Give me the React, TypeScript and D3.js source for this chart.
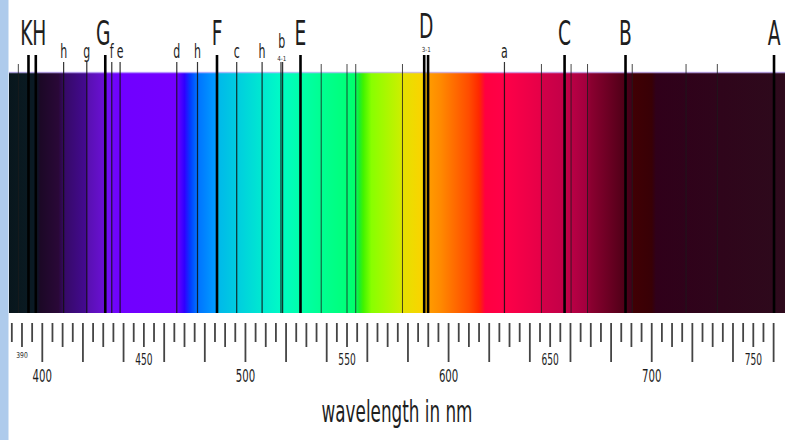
import React from 'react';
import * as d3 from 'd3';

// visible part of the spectrum, in nm
const spectrumRange = [383.6, 765.6];

// colour of the continuum at a given wavelength
const stopWavelengths = [
  383.6, 393, 397, 399, 408, 411, 421.9, 422.1, 430.8, 431, 438, 466, 470, 473, 476, 486,
  486.2, 495.5, 507, 517, 527, 537, 549.5, 554, 556, 558, 562, 576, 577, 588, 590, 596,
  610, 615, 618, 627, 645, 646, 657, 668, 670, 686, 690, 691, 700, 702, 765.6,
];
const stopColors = [
  '#08161c', '#0a1a22', '#0a1a26', '#1c0826', '#2a0838', '#360a68', '#440a92', '#5810b0',
  '#6a10d4', '#7010f0', '#7000ff', '#7400ff', '#3000ff', '#0040ff', '#0070ff', '#00a0ff',
  '#00b8ea', '#00cce0', '#00e6d2', '#00fac6', '#00ffaa', '#00ff92', '#00ff7a', '#00ff6a',
  '#18ee30', '#40f400', '#88ff00', '#c8f000', '#e4e200', '#fcd200', '#ff9c00', '#ff8a00',
  '#ff4c00', '#ff2800', '#ff0040', '#ff0048', '#e60048', '#d20048', '#c40048', '#a2003e',
  '#8a0030', '#520018', '#420018', '#400004', '#380006', '#30001a', '#2e0a1c',
];

// absorption lines (nm)
const strongLines = [393.2, 396.8, 431.0, 486.0, 527.1, 588.0, 589.9, 657.1, 687.1, 760.2];
const mediumLines = [410.5, 421.9, 434.2, 438.3, 466.2, 476.4, 495.7, 508.2, 517.5, 518.3, 627.5];
const weakLines = [388.2, 537.3, 550.0, 554.3, 577.3, 645.7, 660.3, 668.4, 690.4, 716.9, 732.3];

// letters
const bigLabels = ['K', 'H', 'G', 'F', 'E', 'D', 'C', 'B', 'A'];
const bigLabelAt = [393.2, 396.8, 431.0, 486.0, 527.1, 589.0, 657.1, 687.1, 760.2];
const smallLabels = ['h', 'g', 'f', 'e', 'd', 'h', 'c', 'h', 'b', 'a'];
const smallLabelAt = [410.5, 421.9, 434.2, 438.3, 466.2, 476.4, 495.7, 508.2, 517.9, 627.5];
const subLabels = ['4-1', '3-1'];
const subLabelAt = [517.9, 589.0];

// axis
const upperTickLabels = [390, 450, 550, 650, 750];
const lowerTickLabels = [400, 500, 600, 700];
const tickFrom = 385;
const tickTo = 760;

const FONT = '"DejaVu Sans", sans-serif';
const SQUEEZE = 0.55;

export default function App() {
  const width = 788;
  const height = 440;
  const top = 72;
  const bottom = 313;

  const x = d3.scaleLinear().domain([400, 750]).range([42.3, 753.3]);
  const x0 = x(spectrumRange[0]);
  const x1 = x(spectrumRange[1]);
  const offset = d3.scaleLinear().domain(spectrumRange).range([0, 1]);

  const ticks = d3.range(tickFrom, tickTo + 1, 5);
  const tickEnd = (t: number) => (t % 20 === 0 ? 362 : t % 10 === 0 ? 347 : 342);

  // small nudges so the letters sit like the original
  const nudge: Record<string, number> = { K: -2.2, H: 3.5, G: -2 };

  const label = (txt: string, cx: number, y: number, size: number, key: string, sq = SQUEEZE) => (
    <text
      key={key}
      transform={`translate(${cx},${y}) scale(${sq},1)`}
      textAnchor="middle"
      fontFamily={FONT}
      fontSize={size}
      fill="#1e1e1e"
    >
      {txt}
    </text>
  );

  return (
    <svg
      width={width}
      height={height}
      style={{ position: 'absolute', left: 0, top: 0, background: '#fff' }}
    >
      <defs>
        <linearGradient id="spec" gradientUnits="userSpaceOnUse" x1={x0} x2={x1} y1={0} y2={0}>
          {stopWavelengths.map((w, i) => (
            <stop key={i} offset={offset(w)} stopColor={stopColors[i]} />
          ))}
        </linearGradient>
      </defs>

      <rect x={0} y={0} width={8.5} height={height} fill="#aecbec" />

      <rect x={x0} y={top} width={x1 - x0} height={bottom - top} fill="url(#spec)" />
      <line x1={x0} x2={x1} y1={top + 0.5} y2={top + 0.5} stroke="#c9b8ff" strokeWidth={1.5} opacity={0.8} />

      {weakLines.map((w, i) => (
        <line key={'w' + i} x1={x(w)} x2={x(w)} y1={64} y2={bottom} stroke="#1c1c1c" strokeWidth={1} opacity={0.8} />
      ))}
      {mediumLines.map((w, i) => (
        <line key={'m' + i} x1={x(w)} x2={x(w)} y1={62} y2={bottom} stroke="#111" strokeWidth={1.2} opacity={0.85} />
      ))}
      {strongLines.map((w, i) => (
        <line key={'s' + i} x1={x(w)} x2={x(w)} y1={55} y2={bottom} stroke="#000" strokeWidth={2.6} />
      ))}

      {bigLabels.map((l, i) =>
        label(l, x(bigLabelAt[i]) + (nudge[l] || 0), l === 'D' ? 37.5 : 45, 34, 'b' + i)
      )}
      {smallLabels.map((l, i) => label(l, x(smallLabelAt[i]), l === 'b' ? 48 : 58, 20, 'sl' + i))}
      {subLabels.map((l, i) => label(l, x(subLabelAt[i]), l === '3-1' ? 52 : 60.5, 7, 'sub' + i, 0.8))}

      {ticks.map((t) => (
        <line key={'t' + t} x1={x(t)} x2={x(t)} y1={323} y2={tickEnd(t)} stroke="#444" strokeWidth={1.8} />
      ))}
      {upperTickLabels.map((t) =>
        t === 390 ? label(String(t), x(t), 357.5, 8, 'u' + t, 0.75) : label(String(t), x(t), 365, 16.5, 'u' + t)
      )}
      {lowerTickLabels.map((t) => label(String(t), x(t), 382, 18.5, 'lo' + t))}

      {label('wavelength in nm', (x0 + x1) / 2, 421.5, 30, 'title', 0.56)}
    </svg>
  );
}
